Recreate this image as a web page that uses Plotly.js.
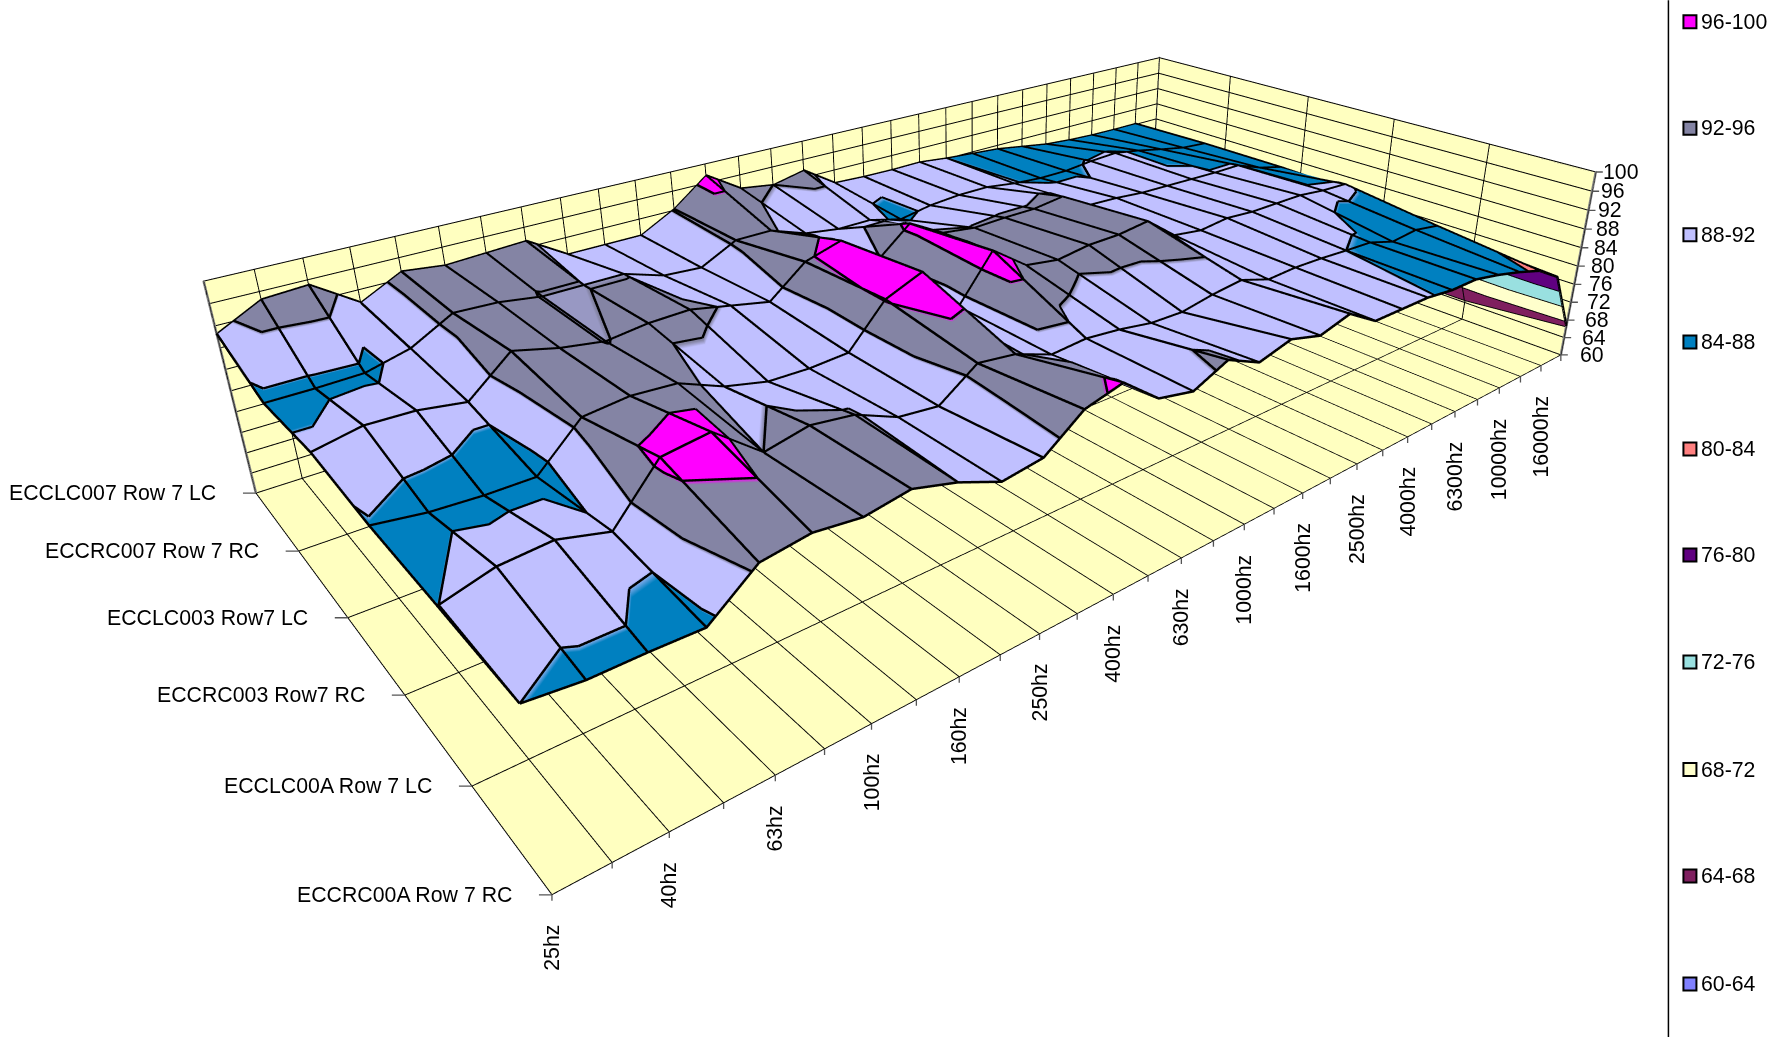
<!DOCTYPE html>
<html>
<head>
<meta charset="utf-8">
<script src="https://cdn.plot.ly/plotly-3.0.1.min.js"></script>
<style>
  html, body { margin: 0; padding: 0; background: #fff; overflow: hidden; width: 1777px; height: 1037px; }
  #stage { position: absolute; left: 0; top: -265.2px; width: 1952.5px; height: 1302.2px; }
</style>
</head>
<body>
<div id="stage"></div>
<script>
// One-third-octave bands along the long floor edge
const frequencies = ['25hz','31.5hz','40hz','50hz','63hz','80hz','100hz','125hz','160hz','200hz','250hz','315hz','400hz','500hz','630hz','800hz','1000hz','1250hz','1600hz','2000hz','2500hz','3150hz','4000hz','5000hz','6300hz','8000hz','10000hz','12500hz','16000hz','20000hz'];
const labelledFrequencies = ['25hz','40hz','63hz','100hz','160hz','250hz','400hz','630hz','1000hz','1600hz','2500hz','4000hz','6300hz','10000hz','16000hz'];

// Measurement positions, front of the floor first
const seats = ['ECCRC00A Row 7 RC','ECCLC00A Row 7 LC','ECCRC003 Row7 RC','ECCLC003 Row7 LC','ECCRC007 Row 7 RC','ECCLC007 Row 7 LC'];

// Level per position and frequency
const rowRC00A = [88,87.2,87.2,87,92.8,93.8,92.9,94,92,89.1,90,95,96.7,91.5,90.1,93,90.1,91.8,90.1,91.8,88.2,88.2,88.2,87.5,87.5,86.3,84.8,83,79.6,66.5];
const rowLC00A = [87.95,90.2,90.8,88.8,97,98,92,93.5,92.5,89.4,88.6,93.4,92.5,90,90.5,89.8,88.7,88.5,89.6,90.3,88.3,88.6,88.4,88,87.7,85.9,86.5,85.5,81,64.5];
const rowRC003 = [87.8,86.7,86.3,86.3,93.2,94,93.5,90.4,88.7,88.5,88.9,96.2,99,90.4,98.8,94,93,93.9,94,94.8,90,89.1,89.8,89.3,89.3,89.3,88.6,88.3,84,64.5];
const rowLC003 = [88.6,90.2,90,88.8,95,93.1,91.9,92.8,93,91.5,90,95.5,97.5,91.5,97,93.2,92.3,92.5,92.5,93.3,89.7,89.4,88.8,88.6,88.4,88.2,88.2,86,84.5,64.5];
const rowRC007 = [87,87,87.2,89.2,93.3,93,91.9,91.9,91.9,89.5,89,92.5,92.5,90,89,89,87.3,88.5,89,89,88.1,87.6,87.6,88.2,88.5,87.5,86.2,85,84.5,64];
const rowLC007 = [90.5,94.5,95,89.5,93.3,92.4,92.8,93.2,88.5,88.5,88.5,92.2,97.5,93,92,93.5,89,88.7,88.6,88.7,88,87.5,87,86,85,84.5,84.2,84.1,84.1,64];
const levels = [rowRC00A,rowLC00A,rowRC003,rowLC003,rowRC007,rowLC007];

// Colour bands, lowest first
const bandLabels = ['60-64','64-68','68-72','72-76','76-80','80-84','84-88','88-92','92-96','96-100'];
const bandColors = ['#8080FF','#7F1F5F','#FFFFCC','#99E0E0','#600080','#FF8080','#0080C0','#C0C0FF','#8484A4','#FF00FF'];
const legendRows = [984,876,769.5,662,555,449,342,234.6,128,21.5];
const levelMin = 60, levelMax = 100, levelStep = 4;
const levelTicks = bandColors.map((b,i)=>levelMin+i*levelStep).concat(levelMax);

// The plot element overhangs the window so the scene's optical centre sits up and to the left
const stageW = 1952.5, stageH = 1302.2, stageTop = -265.2, viewH = 1190.3;
const px = x => x/stageW;
const py = y => 1-(y-stageTop)/stageH;

const fIndex = frequencies.map((f,i)=>i), rIndex = seats.map((s,i)=>i);
const lastF = fIndex.length-1, lastR = rIndex.length-1;

const colorscale = [];
bandColors.forEach((c,i)=>{
  colorscale.push([i/bandColors.length,c]);
  colorscale.push([(i+1)/bandColors.length,c]);
});

// Faceted surface: every grid cell is split along one diagonal into two flat triangles
const mx=[], my=[], mz=[], ti=[], tj=[], tk=[], tris=[];
levels.forEach((row,r)=>row.forEach((v,f)=>{mx.push(f);my.push(r);mz.push(v);}));
const nodeId = (r,f)=>r*frequencies.length+f;
for(let r=0;r<lastR;r++) for(let f=0;f<lastF;f++){
  ti.push(nodeId(r,f),nodeId(r,f));
  tj.push(nodeId(r,f+1),nodeId(r+1,f+1));
  tk.push(nodeId(r+1,f+1),nodeId(r+1,f));
  tris.push([[f,r],[f+1,r],[f+1,r+1]],[[f,r],[f+1,r+1],[f,r+1]]);
}
const mesh = {
  type:'mesh3d', x:mx, y:my, z:mz, i:ti, j:tj, k:tk, intensity:mz,
  cmin:levelMin, cmax:levelMax, colorscale, showscale:false, hoverinfo:'skip', flatshading:true,
  lighting:{ambient:1,diffuse:0,specular:0,roughness:1,fresnel:0}
};

// Black wireframe plus band boundaries, raised a hair above the facets
const lift = 0.12;
const lx=[], ly=[], lz=[];
levels.forEach((row,r)=>{
  row.forEach((v,f)=>{lx.push(f);ly.push(r);lz.push(v+lift);});
  lx.push(null);ly.push(null);lz.push(null);
});
fIndex.forEach(f=>{
  levels.forEach((row,r)=>{lx.push(f);ly.push(r);lz.push(row[f]+lift);});
  lx.push(null);ly.push(null);lz.push(null);
});
tris.forEach(t=>{
  const c = t.map(p=>[p[0],p[1],levels[p[1]][p[0]]]);
  levelTicks.forEach(L=>{
    const hit=[];
    for(let e=0;e<3;e++){
      const a=c[e], b=c[(e+1)%3];
      if((a[2]<L)!==(b[2]<L)){
        const u=(L-a[2])/(b[2]-a[2]);
        hit.push([a[0]+u*(b[0]-a[0]),a[1]+u*(b[1]-a[1])]);
      }
    }
    if(hit.length===2){lx.push(hit[0][0],hit[1][0],null);ly.push(hit[0][1],hit[1][1],null);lz.push(L+lift,L+lift,null);}
  });
});
const wire = {type:'scatter3d',mode:'lines',x:lx,y:ly,z:lz,hoverinfo:'skip',line:{color:'#000',width:5},connectgaps:false};

// Grey frame of the two back walls
const wallFrame = {
  type:'scatter3d', mode:'lines', hoverinfo:'skip',
  x:[0,0,lastF,lastF,lastF,lastF,lastF,null,lastF,lastF],
  y:[lastR,lastR,lastR,lastR,lastR,0,0,null,0,lastR],
  z:[levelMin,levelMax,levelMax,levelMin,levelMax,levelMax,levelMin,null,levelMin,levelMin],
  line:{color:'#808080',width:5}
};

const axisBase = {
  showticklabels:false, showspikes:false, zeroline:false, showline:true,
  linecolor:'#000', linewidth:2, gridcolor:'#000', gridwidth:2,
  showbackground:true, backgroundcolor:'#FFFFC0', ticks:'', title:{text:''}
};

const font = {family:'Liberation Sans, Arial, sans-serif',size:21.3,color:'#000'};
const tick = (x,y,z,ax,ay)=>({x,y,z,showarrow:true,arrowhead:0,arrowwidth:1.3,arrowcolor:'#555',ax,ay,standoff:0,startstandoff:0});
const annotations = [];
seats.forEach((s,r)=>{
  annotations.push({x:0,y:r,z:levelMin,text:s,showarrow:false,xanchor:'right',yanchor:'middle',xshift:-38,font});
  annotations.push(tick(0,r,levelMin,-16,0));
});
fIndex.forEach(f=>annotations.push(tick(f,0,levelMin,0,16)));
labelledFrequencies.forEach(f=>annotations.push({
  x:frequencies.indexOf(f),y:0,z:levelMin,text:f,showarrow:false,textangle:-90,
  xanchor:'center',yanchor:'top',yshift:-28,font
}));
levelTicks.forEach(v=>{
  annotations.push({x:lastF,y:0,z:v,text:String(v),showarrow:false,xanchor:'left',yanchor:'middle',
    xshift:17.5-12*(v-levelMin)/(levelMax-levelMin),font});
  annotations.push(tick(lastF,0,v,10,0));
});

// Legend column on the right: rule, swatches, labels
const shapes = [{type:'line',xref:'paper',yref:'paper',x0:px(1668),x1:px(1668),y0:py(0),y1:py(1037),line:{color:'#000',width:1.5}}];
const legendText = [];
bandLabels.forEach((b,i)=>{
  const y = legendRows[i];
  shapes.push({type:'rect',xref:'paper',yref:'paper',x0:px(1683),x1:px(1696),y0:py(y-6.5),y1:py(y+6.5),fillcolor:bandColors[i],line:{color:'#000',width:2}});
  legendText.push({xref:'paper',yref:'paper',x:px(1699),y:py(y),text:b,showarrow:false,xanchor:'left',yanchor:'middle',font});
});

const layout = {
  width:stageW, height:stageH, margin:{l:0,r:0,t:0,b:0}, showlegend:false,
  paper_bgcolor:'#fff', shapes, annotations:legendText,
  scene:{
    domain:{x:[0,1],y:[1-viewH/stageH,1]},
    aspectmode:'manual',
    aspectratio:{x:1.35,y:0.70524,z:0.24088},
    camera:{eye:{x:-0.92917,y:-1.11985,z:0.66926},center:{x:0.00574,y:-0.00937,z:-0.00745},up:{x:0,y:0,z:1}},
    xaxis:Object.assign({},axisBase,{range:[0,lastF],tickmode:'array',tickvals:fIndex}),
    yaxis:Object.assign({},axisBase,{range:[0,lastR],tickmode:'array',tickvals:rIndex}),
    zaxis:Object.assign({},axisBase,{range:[levelMin,levelMax],tickmode:'array',tickvals:levelTicks}),
    annotations
  }
};

Plotly.newPlot('stage',[mesh,wire,wallFrame],layout,{displayModeBar:false});
</script>
</body>
</html>
